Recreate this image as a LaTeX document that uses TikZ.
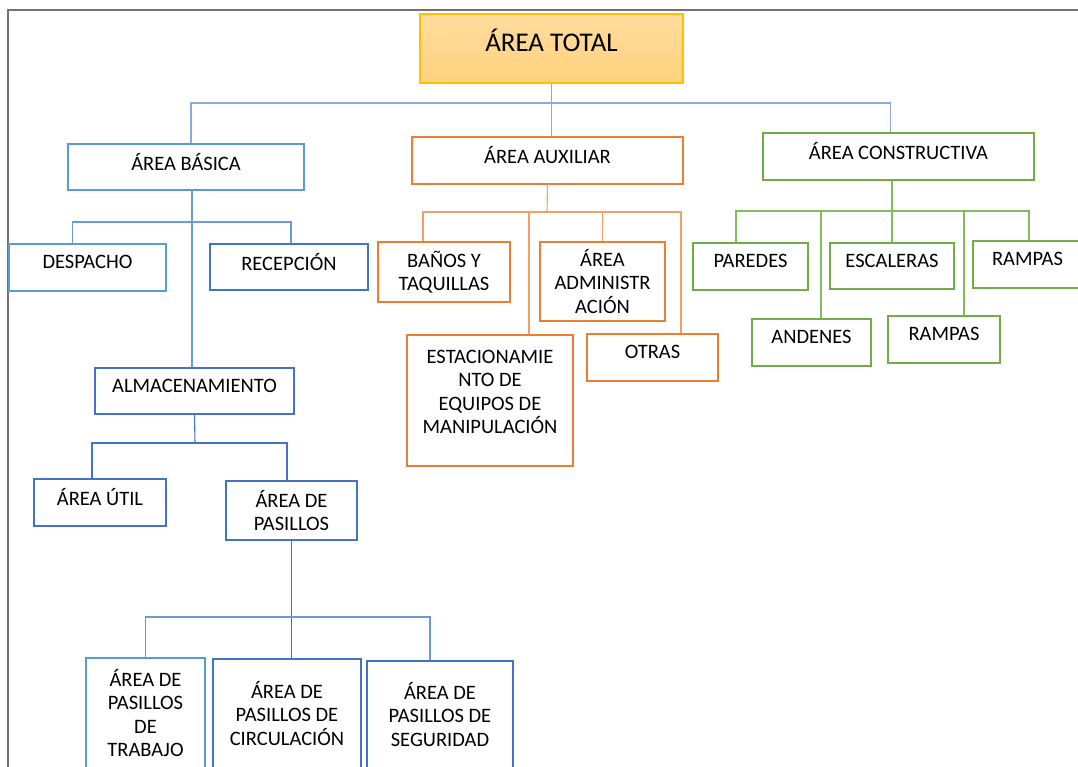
\documentclass[tikz,border=0pt]{standalone}
\usepackage{fontspec}
\setmainfont{Carlito}
\definecolor{marco}{HTML}{767171}
\definecolor{oro}{HTML}{FFC000}
\definecolor{oroA}{HTML}{FFDC9F}
\definecolor{oroB}{HTML}{FFD27C}
\definecolor{azulc}{HTML}{5B9BD5}
\definecolor{azulo}{HTML}{4472C4}
\definecolor{lineaA}{HTML}{8EA9DB}
\definecolor{lineaB}{HTML}{6A9BD8}
\definecolor{naranja}{HTML}{ED7D31}
\definecolor{lineaN}{HTML}{F2A068}
\definecolor{verde}{HTML}{70AD47}
\definecolor{lineaV}{HTML}{84BA60}
\tikzset{
  caja/.style={draw, line width=1.6pt, fill=white, align=center, inner sep=2pt,
    font=\fontsize{20.5}{23.5}\selectfont},
  cajab/.style={caja, draw=azulo},
  cajac/.style={caja, draw=azulc},
  cajan/.style={caja, draw=naranja},
  cajav/.style={caja, draw=verde},
  uno/.style={text depth=11pt},
  con/.style={line width=1.1pt}
}
\begin{document}
\begin{tikzpicture}[x=1pt, y=-1pt]
\useasboundingbox (0,0) rectangle (1078,767);
\draw[marco, line width=2pt] (8,770) -- (8,10) -- (1080,10);

\node[caja, draw=oro, top color=oroA, bottom color=oroB, minimum width=263, minimum height=69,
  font=\fontsize{27}{32}\selectfont, text depth=17pt] (total) at (551.5,48.5) {ÁREA TOTAL};

\node[cajac, uno, minimum width=236, minimum height=46] (basica) at (186,167) {ÁREA BÁSICA};
\node[cajan, uno, minimum width=271, minimum height=47] (auxiliar) at (547.5,160.5) {ÁREA AUXILIAR};
\node[cajav, uno, minimum width=271, minimum height=47] (constructiva) at (898.5,156.5) {ÁREA CONSTRUCTIVA};

\node[cajac, uno, minimum width=157, minimum height=47] (despacho) at (87.5,267.5) {DESPACHO};
\node[cajab, uno, minimum width=158, minimum height=46] (recepcion) at (289,267) {RECEPCIÓN};
\node[cajab, uno, minimum width=199, minimum height=46] (almacen) at (194.5,391) {ALMACENAMIENTO};
\node[cajab, uno, minimum width=132, minimum height=47] (util) at (100,502.5) {ÁREA ÚTIL};
\node[cajab, minimum width=131, minimum height=59] (pasillos) at (291.5,510.5) {ÁREA DE\\PASILLOS};
\node[cajac, minimum width=119, minimum height=110] (trabajo) at (145.5,713) {ÁREA DE\\PASILLOS\\DE\\TRABAJO};
\node[cajab, minimum width=148, minimum height=109] (circulacion) at (287,713.5) {ÁREA DE\\PASILLOS DE\\CIRCULACIÓN};
\node[cajab, minimum width=146, minimum height=107] (seguridad) at (440,714.5) {ÁREA DE\\PASILLOS DE\\SEGURIDAD};

\node[cajan, minimum width=132, minimum height=60] (banos) at (444,272) {BAÑOS Y\\TAQUILLAS};
\node[cajan, minimum width=125, minimum height=79] (admin) at (602.5,281.5) {ÁREA\\ADMINISTR\\ACIÓN};
\node[cajan, minimum width=166, minimum height=131, text depth=17pt] (estac) at (490,400.5) {ESTACIONAMIE\\NTO DE\\EQUIPOS DE\\MANIPULACIÓN};
\node[cajan, uno, minimum width=131, minimum height=47] (otras) at (652.5,357.5) {OTRAS};

\node[cajav, uno, minimum width=115, minimum height=47] (paredes) at (750.5,266.5) {PAREDES};
\node[cajav, uno, minimum width=124, minimum height=46] (escaleras) at (892,266) {ESCALERAS};
\node[cajav, uno, minimum width=109, minimum height=47] (rampasa) at (1027.5,264.5) {RAMPAS};
\node[cajav, uno, minimum width=119, minimum height=47] (andenes) at (811.5,342.5) {ANDENES};
\node[cajav, uno, minimum width=112, minimum height=47] (rampasb) at (944,339.5) {RAMPAS};

\coordinate (bus1) at (551,103);
\coordinate (bus2) at (192,222);
\coordinate (bus3) at (195,443);
\coordinate (bus4) at (289,617);
\coordinate (bus5) at (547,212);
\coordinate (bus6) at (892,211);
\coordinate (b1) at ([xshift=6pt]basica.south);
\coordinate (e1) at ([xshift=39pt]estac.north);
\coordinate (a1) at ([xshift=9.5pt]andenes.north);
\coordinate (r1) at ([xshift=20pt]rampasb.north);

\draw[con, lineaA] (total.south) -- (total.south |- auxiliar.north);
\draw[con, lineaA] ([xshift=5pt]basica.north) |- (bus1) -| ([xshift=-8pt]constructiva.north);

\draw[con, lineaB] (b1) -- (b1 |- almacen.north);
\draw[con, lineaB] ([xshift=-15pt]despacho.north) |- (bus2) -| ([xshift=2pt]recepcion.north);
\draw[con, azulo] (almacen.south) -- (bus3);
\draw[con, azulo] ([xshift=-8pt]util.north) |- (bus3) -| ([xshift=-4.5pt]pasillos.north);
\draw[con, azulo] (pasillos.south) -- (pasillos.south |- circulacion.north);
\draw[con, lineaB] (trabajo.north) |- (bus4) -| ([xshift=-10pt]seguridad.north);

\draw[con, lineaN] (auxiliar.south) -- (bus5);
\draw[con, lineaN] ([xshift=-21pt]banos.north) |- (bus5) -| ([xshift=28.5pt]otras.north);
\draw[con, lineaN] (e1) -- (e1 |- bus5);
\draw[con, lineaN] (admin.north) -- (admin.north |- bus5);

\draw[con, lineaV] (constructiva.south -| bus6) -- (bus6);
\draw[con, lineaV] ([xshift=-14.5pt]paredes.north) |- (bus6) -| ([xshift=1.5pt]rampasa.north);
\draw[con, lineaV] (escaleras.north) -- (escaleras.north |- bus6);
\draw[con, lineaV] (a1) -- (a1 |- bus6);
\draw[con, lineaV] (r1) -- (r1 |- bus6);
\end{tikzpicture}
\end{document}
